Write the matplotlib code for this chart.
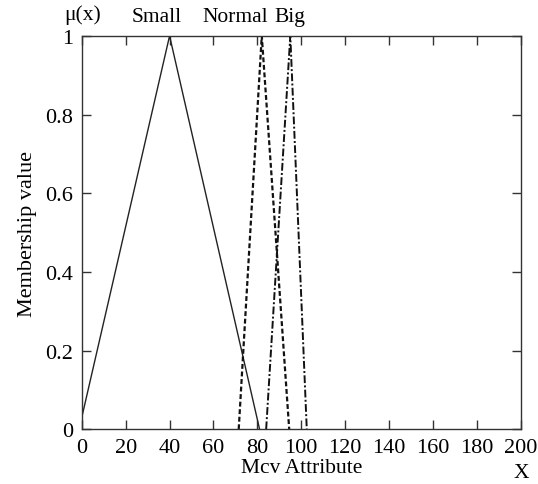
import matplotlib.pyplot as plt
import numpy as np

plt.rcParams['font.family'] = ['Liberation Serif', 'DejaVu Serif']

# Zugehoerigkeitsfunktionen (Dreiecke)
small_x = [0, 40, 81]
small_y = [0.03, 1, 0]
normal_x = [71.5, 82, 94.5]
normal_y = [0, 1, 0]
big_x = [84, 95, 102.5]
big_y = [0, 1, 0]

labels = ['Small', 'Normal', 'Big']
label_x = [34, 70, 95]

xticks = list(range(0, 201, 20))
yticks = [0, 0.2, 0.4, 0.6, 0.8, 1]
ytick_labels = ['0', '0.2', '0.4', '0.6', '0.8', '1']

fig = plt.figure(figsize=(5.38, 4.85), dpi=100)
ax = fig.add_axes([0.152, 0.113, 0.816, 0.811])

ax.plot(small_x, small_y, color='#222222', linewidth=1.0, linestyle='-')
ax.plot(normal_x, normal_y, color='#111111', linewidth=1.6, linestyle=(0, (2.2, 1.2)))
ax.plot(big_x, big_y, color='#111111', linewidth=1.4, linestyle=(0, (4, 1.2, 1, 1.2)))

ax.set_xlim(0, 200)
ax.set_ylim(0, 1)
ax.set_xticks(xticks)
ax.set_yticks(yticks)
ax.set_yticklabels(ytick_labels)

for s in ax.spines.values():
    s.set_color('#333333')
    s.set_linewidth(1.0)

ax.tick_params(axis='both', which='both', direction='in', length=6.5, width=1.0,
               color='#333333', labelsize=16, top=True, right=True)
ax.tick_params(axis='x', pad=6)
ax.tick_params(axis='y', pad=6)

for t, xx in zip(labels, label_x):
    ax.text(xx, 1.048, t, ha='center', va='center', fontsize=15.5, clip_on=False)
ax.text(0.5, 1.055, 'μ(x)', ha='center', va='center', fontsize=15.5, clip_on=False)

ax.set_xlabel('Mcv Attribute', fontsize=15.5, labelpad=1)
ax.set_ylabel('Membership value', fontsize=16, labelpad=6)
ax.text(200, -0.11, 'X', ha='center', va='center', fontsize=15.5, clip_on=False)

fig.savefig('out.png', dpi=100)
